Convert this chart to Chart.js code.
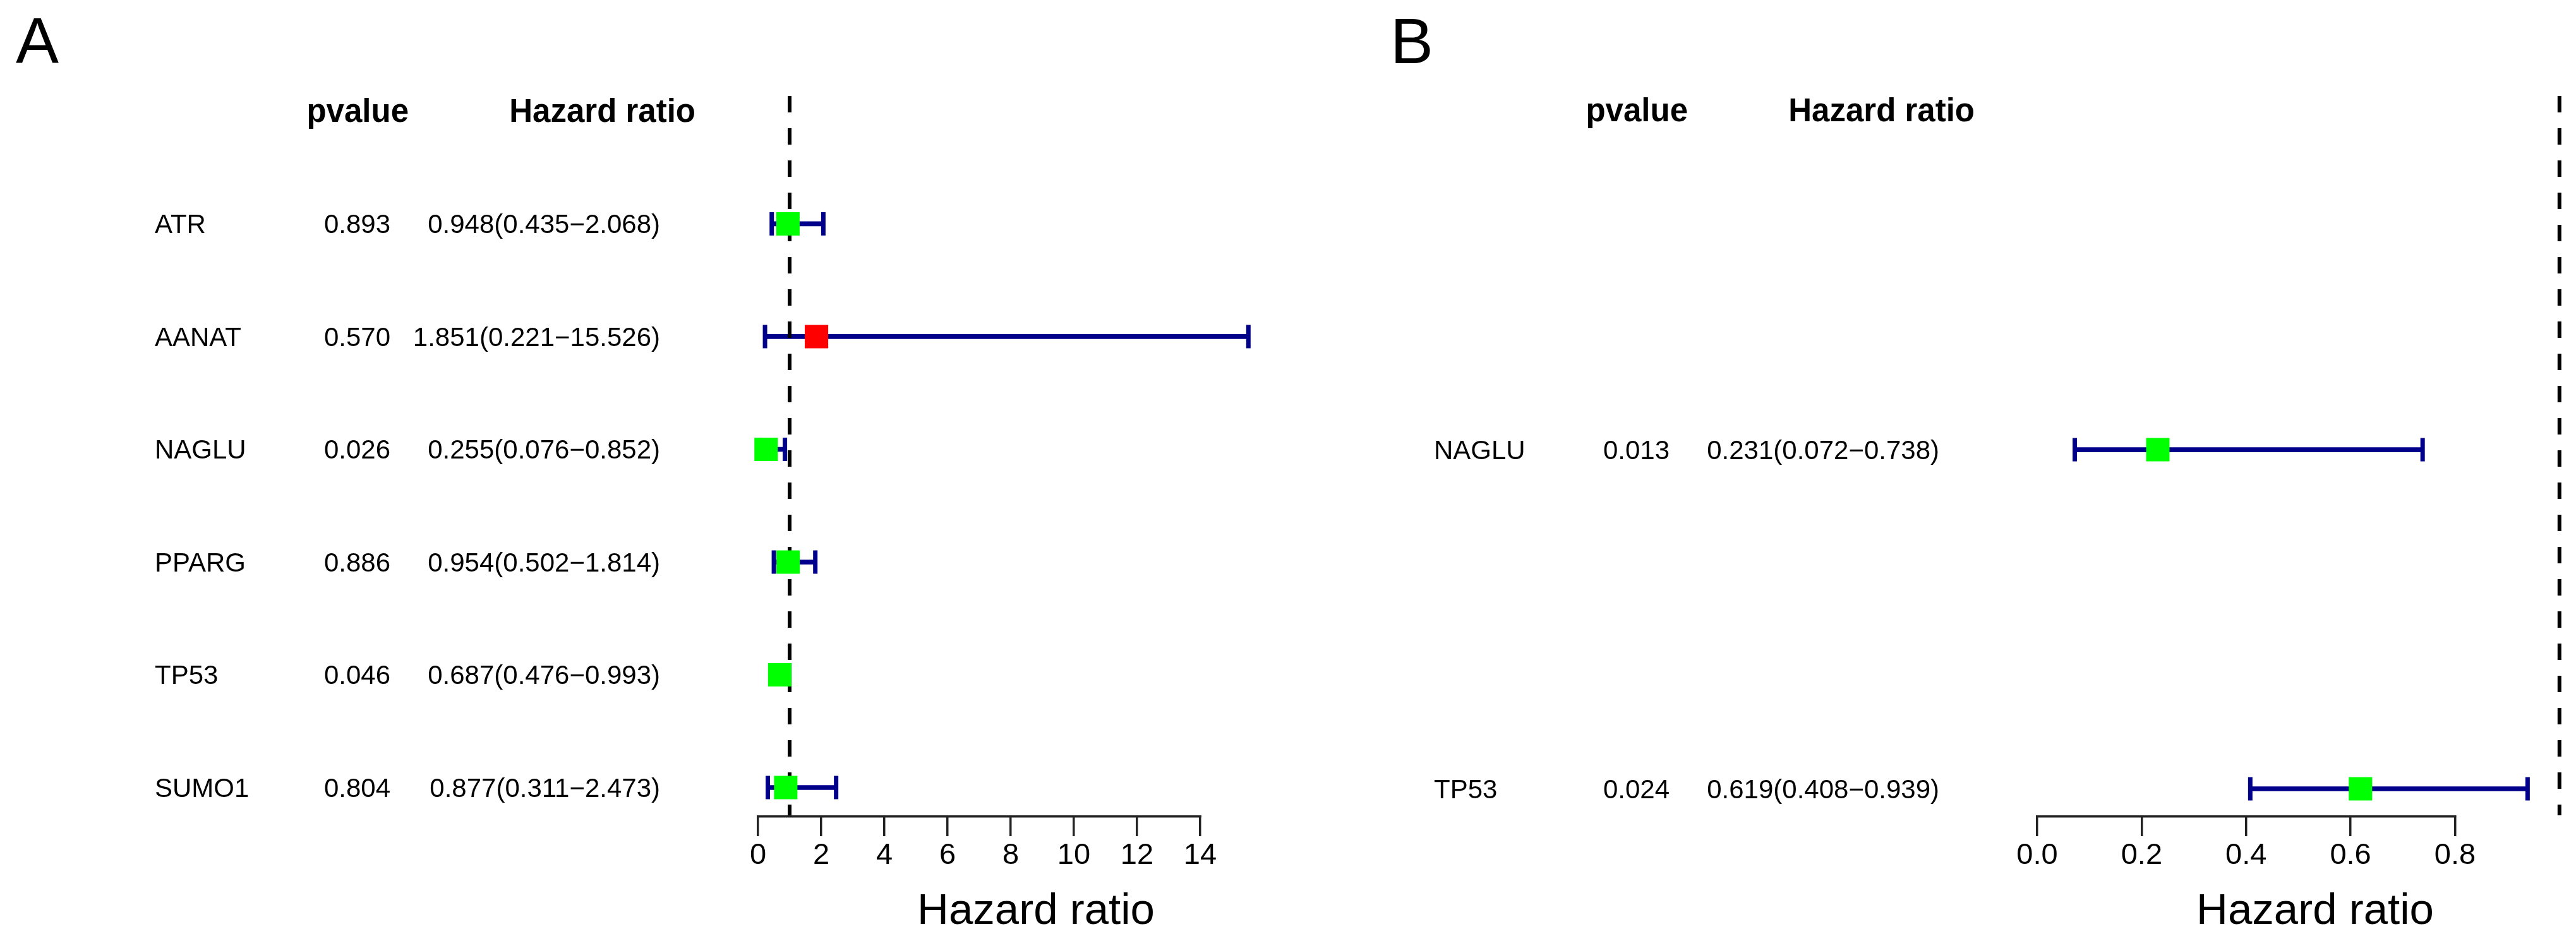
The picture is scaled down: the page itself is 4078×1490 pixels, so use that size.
<!DOCTYPE html>
<html lang="en">
<head>
<meta charset="UTF-8">
<title>Univariate Cox forest plots</title>
<style>
  html, body { margin: 0; padding: 0; background: #fff; }
  body { width: 4078px; height: 1490px; position: relative; overflow: hidden; }
  .panel { position: absolute; top: 0; height: 1490px; }
  #panelA { left: 0; width: 2100px; }
  #panelB { left: 2100px; width: 1978px; }
</style>
</head>
<body>

<div class="panel" id="panelA"><canvas id="chartA" width="2100" height="1490"></canvas></div>
<div class="panel" id="panelB"><canvas id="chartB" width="1978" height="1490"></canvas></div>

<script src="https://cdn.jsdelivr.net/npm/chart.js@4.4.1/dist/chart.umd.min.js"></script>
<script>
// Panel A data
var genesA = ['ATR', 'AANAT', 'NAGLU', 'PPARG', 'TP53', 'SUMO1'];
var pvalA  = ['0.893', '0.570', '0.026', '0.886', '0.046', '0.804'];
var hrA    = [0.948, 1.851, 0.255, 0.954, 0.687, 0.877];
var lowA   = [0.435, 0.221, 0.076, 0.502, 0.476, 0.311];
var highA  = [2.068, 15.526, 0.852, 1.814, 0.993, 2.473];
var ticksA = [0, 2, 4, 6, 8, 10, 12, 14];
var tickLabelsA = ['0', '2', '4', '6', '8', '10', '12', '14'];

// Panel B data
var genesB = ['NAGLU', 'TP53'];
var pvalB  = ['0.013', '0.024'];
var hrB    = [0.231, 0.619];
var lowB   = [0.072, 0.408];
var highB  = [0.738, 0.939];
var ticksB = [0, 0.2, 0.4, 0.6, 0.8];
var tickLabelsB = ['0.0', '0.2', '0.4', '0.6', '0.8'];

var FONT = '"Liberation Sans", Arial, Helvetica, sans-serif';
var NAVY = '#00008b';
var GREEN = '#00ff00';
var RED = '#ff0000';
var AXIS = '#222';
var AXIS_W = 3.5;

function hrText(hr, lo, hi) {
    return hr.map(function(v, i) {
        return v.toFixed(3) + '(' + lo[i].toFixed(3) + '\u2212' + hi[i].toFixed(3) + ')';
    });
}

// axis line (only over the tick range), text columns, headers and axis title
var forestText = {
    id: 'forestText',
    afterDraw: function(chart, args, opts) {
        var ctx = chart.ctx;
        var x = chart.scales.x;
        var y = chart.scales.y;
        var left = chart.chartArea.left;
        var bottom = chart.chartArea.bottom;
        var n = opts.genes.length;
        var labels = hrText(opts.hr, opts.low, opts.high);

        ctx.save();
        ctx.strokeStyle = AXIS;
        ctx.lineWidth = AXIS_W;
        ctx.beginPath();
        ctx.moveTo(x.getPixelForValue(opts.ticks[0]) - AXIS_W / 2, bottom + AXIS_W / 2);
        ctx.lineTo(x.getPixelForValue(opts.ticks[opts.ticks.length - 1]) + AXIS_W / 2, bottom + AXIS_W / 2);
        ctx.stroke();

        ctx.fillStyle = '#000';
        ctx.textBaseline = 'alphabetic';

        ctx.font = '102px ' + FONT;
        ctx.textAlign = 'left';
        ctx.fillText(opts.letter, opts.letterX, 100);

        var yh = y.getPixelForValue(n + 1) + 17;
        ctx.font = 'bold 51px ' + FONT;
        ctx.textAlign = 'right';
        ctx.fillText('pvalue', left - 553, yh);
        ctx.fillText('Hazard ratio', left - 99, yh);

        ctx.font = '42px ' + FONT;
        opts.genes.forEach(function(g, i) {
            var yy = y.getPixelForValue(n - i) + 15;
            ctx.textAlign = 'left';
            ctx.fillText(g, left - 955, yy);
            ctx.textAlign = 'right';
            ctx.fillText(opts.pvals[i], left - 582, yy);
            ctx.fillText(labels[i], left - 155, yy);
        });

        ctx.font = '69px ' + FONT;
        ctx.textAlign = 'center';
        ctx.fillText('Hazard ratio', left + 440, 1463);
        ctx.restore();
    }
};

function forestChart(id, p) {
    var n = p.genes.length;
    var rows = p.genes.map(function(g, i) { return n - i; });

    return new Chart(document.getElementById(id), {
        type: 'scatter',
        data: {
            datasets: [
                {   // confidence interval segments
                    type: 'bar',
                    indexAxis: 'y',
                    data: p.low.map(function(l, i) { return { x: [l, p.high[i]], y: rows[i] }; }),
                    backgroundColor: NAVY,
                    borderWidth: 0,
                    barThickness: 7,
                    clip: false,
                    order: 3
                },
                {   // whisker caps
                    data: p.low.concat(p.high).map(function(v, i) { return { x: v, y: rows[i % n] }; }),
                    pointStyle: 'line',
                    pointRotation: 90,
                    pointRadius: 18.5,
                    pointBorderWidth: 7,
                    pointBorderColor: NAVY,
                    pointBackgroundColor: NAVY,
                    clip: false,
                    order: 2
                },
                {   // reference line at HR = 1
                    data: [{ x: 1, y: p.yMax }, { x: 1, y: p.yMin }],
                    showLine: true,
                    borderColor: '#000',
                    borderWidth: 6,
                    borderDash: [26, 25],
                    pointRadius: 0,
                    clip: false,
                    order: 1
                },
                {   // point estimates
                    data: p.hr.map(function(v, i) { return { x: v, y: rows[i] }; }),
                    pointStyle: 'rect',
                    pointRadius: 26.2,
                    pointBorderWidth: 0,
                    pointBackgroundColor: p.hr.map(function(v) { return v > 1 ? RED : GREEN; }),
                    clip: false,
                    order: 0
                }
            ]
        },
        options: {
            responsive: false,
            animation: false,
            devicePixelRatio: 1,
            events: [],
            layout: { padding: { left: p.padLeft, right: p.padRight, top: 152, bottom: 0 } },
            plugins: {
                legend: { display: false },
                tooltip: { enabled: false },
                forestText: {
                    letter: p.letter, letterX: p.letterX, ticks: p.ticks,
                    genes: p.genes, pvals: p.pvals, hr: p.hr, low: p.low, high: p.high
                }
            },
            scales: {
                x: {
                    type: 'linear',
                    min: p.ticks[0],
                    max: p.xMax,
                    afterBuildTicks: function(s) {
                        s.ticks = p.ticks.map(function(v) { return { value: v }; });
                    },
                    afterFit: function(s) { s.height = 199; },
                    ticks: {
                        autoSkip: false,
                        maxRotation: 0,
                        padding: 3,
                        color: '#000',
                        font: { family: FONT, size: 47 },
                        callback: function(v, i) { return p.tickLabels[i]; }
                    },
                    grid: { drawOnChartArea: false, drawTicks: true, tickLength: 33, color: AXIS, lineWidth: AXIS_W },
                    border: { display: false },
                    title: { display: false }
                },
                y: {
                    type: 'linear',
                    display: false,
                    min: p.yMin,
                    max: p.yMax,
                    offset: false,
                    grid: { offset: false }
                }
            }
        },
        plugins: [forestText]
    });
}

forestChart('chartA', {
    letter: 'A', letterX: 25,
    genes: genesA, pvals: pvalA, hr: hrA, low: lowA, high: highA,
    ticks: ticksA, tickLabels: tickLabelsA, xMax: 16,
    yMin: 0.7535, yMax: 7.134,
    padLeft: 1200, padRight: 100
});

forestChart('chartB', {
    letter: 'B', letterX: 101,
    genes: genesB, pvals: pvalB, hr: hrB, low: lowB, high: highB,
    ticks: ticksB, tickLabels: tickLabelsB, xMax: 1.0,
    yMin: 0.9218, yMax: 3.043,
    padLeft: 1125, padRight: 25.5
});
</script>
</body>
</html>
